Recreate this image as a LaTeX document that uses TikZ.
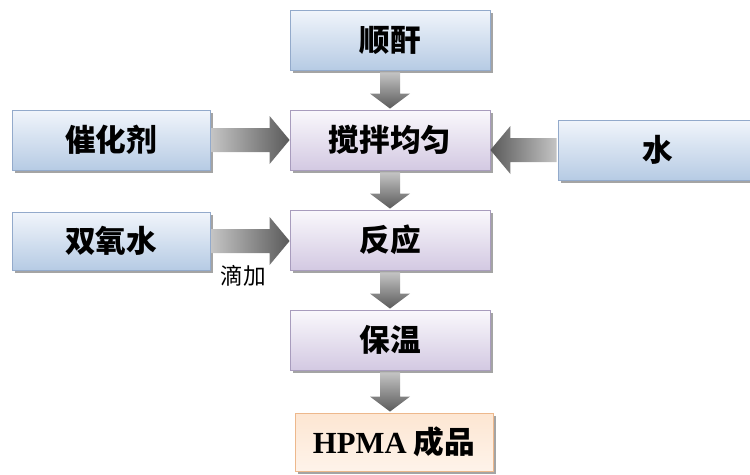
\documentclass[tikz,border=0pt]{standalone}
\usepackage{fontspec}
\newfontfamily\cjk{Noto Sans CJK SC}
\newfontfamily\latinb{Liberation Serif}
\usetikzlibrary{calc,shadows}
\definecolor{bluetop}{HTML}{F1F5FB}
\definecolor{bluebot}{HTML}{B6CBE4}
\definecolor{blueline}{HTML}{93AACB}
\definecolor{purtop}{HTML}{FAF8FC}
\definecolor{purbot}{HTML}{D3C9E2}
\definecolor{purline}{HTML}{A89CBD}
\definecolor{ortop}{HTML}{FDE6D2}
\definecolor{orbot}{HTML}{FEF3EA}
\definecolor{orline}{HTML}{EDB88C}
\definecolor{shadowc}{HTML}{A4A4A4}
\definecolor{arrlight}{HTML}{C4C4C4}
\definecolor{arrdark}{HTML}{5A5A5A}
\tikzset{
  boxbase/.style={draw, line width=0.6pt, minimum width=150pt, minimum height=45pt,
    inner sep=0pt, font=\cjk\bfseries\fontsize{23}{25}\selectfont,
    drop shadow={shadow xshift=2.2pt, shadow yshift=-2.2pt, fill=shadowc, opacity=1}},
  bluebox/.style={boxbase, draw=blueline, top color=bluetop, bottom color=bluebot},
  purbox/.style={boxbase, draw=purline, top color=purtop, bottom color=purbot},
  orbox/.style={boxbase, draw=orline, top color=ortop, bottom color=orbot},
  harr/.style={left color=arrlight, right color=arrdark},
  larr/.style={left color=arrdark, right color=arrlight},
  varr/.style={top color=arrlight, bottom color=arrdark},
}
\begin{document}
\begin{tikzpicture}[x=0.75pt,y=-0.75pt]
\useasboundingbox (0,0) rectangle (750,475);
\clip (0,0) rectangle (750,475);
% boxes
\node[bluebox] (shun) at (390,40) {顺酐};
\node[purbox] (jiao) at (390,140) {搅拌均匀};
\node[bluebox, minimum width=148.5pt] (cui) at (111,140) {催化剂};
\node[bluebox] (shui) at (658,150) {水};
\node[bluebox, minimum width=148.5pt, minimum height=43.5pt] (shuang) at (111,241) {双氧水};
\node[purbox] (fan) at (390,240) {反应};
\node[purbox] (bao) at (390,340) {保温};
\node[orbox, minimum width=148.5pt, minimum height=43.5pt] (hpma) at (394,442) {{\latinb\bfseries HPMA} 成品};
% vertical arrows
\foreach \a/\b in {shun/jiao, jiao/fan, fan/bao, bao/hpma}{
  \path[varr] ($(\a.south)+(-10,2)$) -- ($(\b.north -| \a.south)+(-10,-16)$)
    -- ($(\b.north -| \a.south)+(-20,-16)$) -- ($(\b.north -| \a.south)+(0,-1)$)
    -- ($(\b.north -| \a.south)+(20,-16)$) -- ($(\b.north -| \a.south)+(10,-16)$)
    -- ($(\a.south)+(10,2)$) -- cycle;
}
% horizontal arrows into the middle column
\foreach \a/\b in {cui/jiao, shuang/fan}{
  \path[harr] ($(\a.east)+(1,-12)$) -- ($(\b.west |- \a.east)+(-20,-12)$)
    -- ($(\b.west |- \a.east)+(-20,-24)$) -- ($(\b.west |- \a.east)+(0,0)$)
    -- ($(\b.west |- \a.east)+(-20,24)$) -- ($(\b.west |- \a.east)+(-20,12)$)
    -- ($(\a.east)+(1,12)$) -- cycle;
}
% arrow from water (pointing left)
\path[larr] ($(shui.west)+(-1,-12)$) -- ($(jiao.east |- shui.west)+(20,-12)$)
    -- ($(jiao.east |- shui.west)+(20,-24)$) -- ($(jiao.east |- shui.west)+(0,0)$)
    -- ($(jiao.east |- shui.west)+(20,24)$) -- ($(jiao.east |- shui.west)+(20,12)$)
    -- ($(shui.west)+(-1,12)$) -- cycle;
% label
\node[font=\cjk\fontsize{17}{19}\selectfont, inner sep=0pt] (dijia) at (243,276) {滴加};
\end{tikzpicture}
\end{document}
